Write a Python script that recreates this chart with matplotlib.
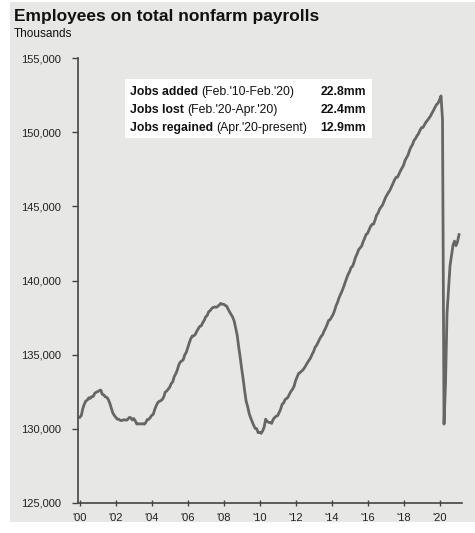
import numpy as np
import pandas as pd
import matplotlib
import matplotlib.pyplot as plt
from matplotlib.patches import Rectangle

matplotlib.rcParams['font.family'] = ['Liberation Sans', 'DejaVu Sans']

# Total nonfarm payrolls, thousands, monthly Jan 2000 - Feb 2021
payrolls = [
    130781, 130898, 131370, 131656, 131879, 131932, 132098, 132053, 132179, 132180, 132403, 132469,  # 2000
    132511, 132576, 132616, 132324, 132290, 132152, 132130, 131977, 131734, 131403, 131075, 130909,  # 2001
    130779, 130647, 130652, 130567, 130558, 130602, 130609, 130581, 130640, 130768, 130750, 130601,  # 2002
    130696, 130537, 130327, 130329, 130339, 130328, 130353, 130310, 130416, 130626, 130639, 130759,  # 2003
    130913, 130976, 131308, 131558, 131767, 131855, 131893, 131981, 132143, 132483, 132545, 132682,  # 2004
    132810, 133050, 133171, 133522, 133704, 133950, 134298, 134498, 134572, 134654, 134987, 135147,  # 2005
    135463, 135779, 136069, 136256, 136269, 136361, 136565, 136744, 136904, 136940, 137150, 137312,  # 2006
    137554, 137644, 137898, 137970, 138111, 138185, 138216, 138192, 138252, 138345, 138456, 138398,  # 2007
    138406, 138321, 138272, 138058, 137872, 137703, 137529, 137262, 136804, 136323, 135530, 134827,  # 2008
    134054, 133353, 132553, 131853, 131497, 131032, 130738, 130483, 130236, 130033, 130014, 129736,  # 2009
    129761, 129695, 129860, 130114, 130651, 130501, 130436, 130426, 130367, 130632, 130765, 130849,  # 2010
    130892, 131096, 131328, 131653, 131746, 131977, 132044, 132150, 132367, 132544, 132680, 132884,  # 2011
    133254, 133497, 133738, 133795, 133895, 133983, 134133, 134309, 134476, 134629, 134789, 135026,  # 2012
    135216, 135498, 135637, 135834, 136052, 136234, 136346, 136599, 136796, 137029, 137305, 137363,  # 2013
    137535, 137710, 137980, 138310, 138535, 138845, 139070, 139302, 139562, 139858, 140143, 140412,  # 2014
    140602, 140876, 140966, 141248, 141580, 141789, 142070, 142197, 142310, 142604, 142840, 143099,  # 2015
    143179, 143423, 143648, 143784, 143803, 144077, 144402, 144548, 144808, 144957, 145088, 145340,  # 2016
    145598, 145776, 145952, 146103, 146321, 146550, 146787, 146950, 146970, 147181, 147406, 147580,  # 2017
    147767, 148097, 148280, 148461, 148768, 149003, 149164, 149446, 149568, 149761, 149899, 150135,  # 2018
    150301, 150321, 150503, 150684, 150805, 150950, 151086, 151293, 151469, 151678, 151859, 151955,  # 2019
    152170, 152444, 150847, 130318, 133041, 137787, 139394, 140982, 141698, 142377, 142654, 142348,  # 2020
    142614, 143092,                                                                                  # 2021
]
dates = pd.date_range('2000-01-01', periods=len(payrolls), freq='MS')
years = dates.year + (dates.month - 1) / 12

box_labels = ['Jobs added', 'Jobs lost', 'Jobs regained']
box_periods = ["(Feb.'10-Feb.'20)", "(Feb.'20-Apr.'20)", "(Apr.'20-present)"]
box_values = ['22.8mm', '22.4mm', '12.9mm']

x_ticks = np.arange(2000, 2021, 2)
x_ticklabels = ["'%02d" % (y % 100) for y in x_ticks]
y_ticks = np.arange(125000, 155001, 5000)

fig = plt.figure(figsize=(4.75, 5.33), dpi=100, facecolor='white')
# gray panel behind everything
fig.patches.append(Rectangle((10/475, 11/533), 465/475, 520/533, transform=fig.transFigure,
                             facecolor='#e7e7e6', edgecolor='none', zorder=-10))

ax = fig.add_axes([78/475, 30/533, 384/475, 445/533])
ax.set_facecolor('none')
ax.plot(years, payrolls, color='#666666', lw=2.0, solid_joinstyle='round')

ax.set_xlim(1999.9, 2021.25)
ax.set_ylim(125000, 155000)
ax.set_xticks(x_ticks)
ax.set_xticklabels(x_ticklabels, fontsize=8)
ax.set_yticks(y_ticks)
ax.set_yticklabels(['{:,}'.format(v) for v in y_ticks], fontsize=8)

for side in ['top', 'right']:
    ax.spines[side].set_visible(False)
for side in ['left', 'bottom']:
    ax.spines[side].set_color('#444444')
    ax.spines[side].set_linewidth(1.2)
ax.tick_params(axis='y', direction='out', length=4, width=1, color='#444444', pad=8, labelcolor='#222222')
ax.tick_params(axis='x', direction='inout', length=5, width=1, color='#444444', pad=5, labelcolor='#222222')

fig.text(14/475, 1 - 16/533, 'Employees on total nonfarm payrolls', fontsize=12.5,
         fontweight='bold', va='center', ha='left', color='#111111')
fig.text(14/475, 1 - 34/533, 'Thousands', fontsize=8.5, va='center', ha='left', color='#111111')

# summary box
fig.patches.append(Rectangle((125/475, 1 - 138/533), 247/475, 59/533, transform=fig.transFigure,
                             facecolor='white', edgecolor='none', zorder=1))
for i in range(len(box_labels)):
    yy = 1 - (92 + 18 * i) / 533
    t = fig.text(130/475, yy, box_labels[i], fontsize=8.8, fontweight='bold', va='center', ha='left',
                 color='#111111', zorder=2)
    fig.canvas.draw()
    bb = t.get_window_extent()
    fig.text((bb.x1 + 3) / 475, yy, box_periods[i], fontsize=8.8, va='center', ha='left',
             color='#111111', zorder=2)
    fig.text(366/475, yy, box_values[i], fontsize=8.8, fontweight='bold', va='center', ha='right',
             color='#111111', zorder=2)

fig.savefig('out.png', dpi=100, facecolor=fig.get_facecolor())
